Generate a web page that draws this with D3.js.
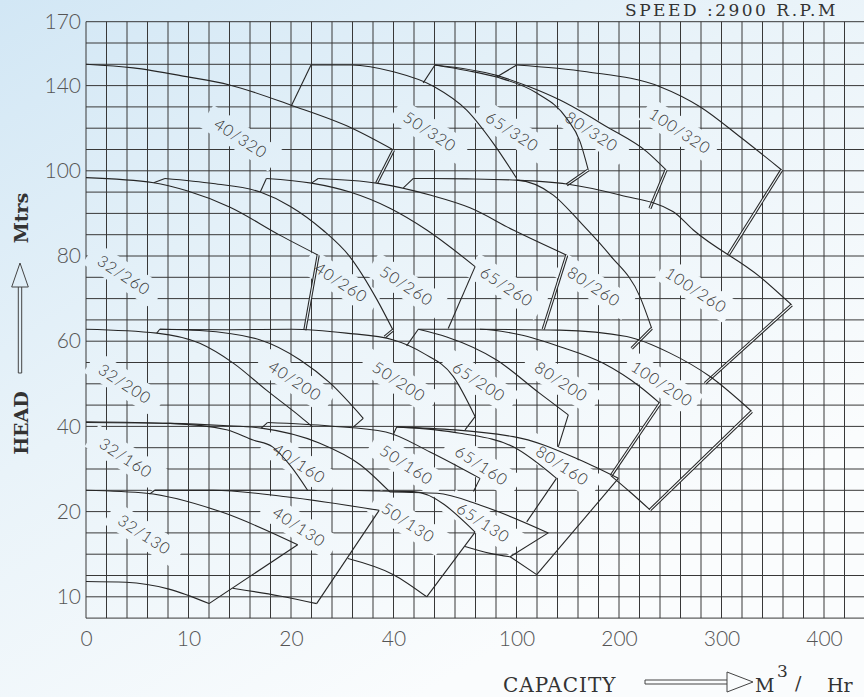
<!DOCTYPE html>
<html>
<head>
<meta charset="utf-8">
<script src="https://cdn.jsdelivr.net/npm/d3@7"></script>
<style>
html, body { margin: 0; padding: 0; overflow: hidden; }
svg { display: block; }
</style>
</head>
<body>
<svg id="chart" width="864" height="697"></svg>
<script>
// axis ticks (chart paper is piecewise, so the scales below are polylinear)
var capTicks = [0, 10, 20, 40, 100, 200, 300, 400];
var headTicks = [10, 20, 40, 60, 80, 100, 140, 170];

// pump curves, points are [capacity m3/h, head m]
// top = max impeller curve, step = short rise where a tile starts,
// edge = right hand limit line, bottom = lower limit where it shows
var curves320 = [
  {model: '40/320', top: [[0,150],[4.6,148.3],[9.8,144.2],[14,140.3],[20.1,130.7],[31.8,120.1],[40,109.8]],
   edge: [[40,109.8],[36.7,97.1]], label: [15.1,115.3]},
  {model: '50/320', step: [[20.1,130.7],[23.9,149.7]],
   top: [[23.9,149.7],[31.8,149.7],[40,146.5],[59.9,139.5],[75.7,128.5],[88.7,112.9],[100.2,98.2]], label: [57.8,118.4]},
  {model: '65/320', step: [[54.5,141.3],[60.2,149.7]],
   top: [[60.2,149.7],[75.7,147.1],[90.3,144.0],[119.7,136.5],[149,124.6],[162,113.7],[170,100.4]],
   edge: [[170,100.4],[149,96.7]], label: [98,118.4]},
  {model: '80/320', top: [[60.2,149.7],[90.3,144.8],[113.2,139.3],[142.4,133.2],[188,120.7],[227,109.0],[245.9,100.4]],
   edge: [[245.9,100.4],[230.2,91.2]], label: [173.4,118.4]},
  {model: '100/320', step: [[90.3,144.0],[100.2,149.7]],
   top: [[100.2,149.7],[168.5,146.5],[240,139.5],[279,130.1],[318,116.0],[358.7,100.4]],
   edge: [[358.7,100.4],[306.6,80.2]], label: [259.5,118.7]}
];

var curves260 = [
  {model: '32/260', top: [[0,98.4],[6.6,97.2],[9.85,95.3],[14,91.5],[18.9,84.9],[25.3,80.2]],
   edge: [[25.3,80.2],[22.7,62.6]], label: [3.7,75.5]},
  {model: '40/260', step: [[6.6,97.2],[7.7,98.2]],
   top: [[7.7,98.2],[12.4,97.0],[17.0,95.0],[19.9,91.7],[26.2,86.1],[31.5,79.8],[36.8,69.7],[39.9,62.6]],
   edge: [[39.9,62.6],[38.3,61.0]], label: [29.8,73.8]},
  {model: '50/260', step: [[17.0,95.0],[17.6,98.2]],
   top: [[17.6,98.2],[24.0,97.1],[31.5,95.0],[39.3,91.2],[56.2,86.1],[79.8,77.5]],
   edge: [[79.8,77.5],[66.7,63.0]], label: [46.4,73.0]},
  {model: '65/260', step: [[24.0,97.1],[25.3,98.2]],
   top: [[25.3,98.2],[36.7,97.1],[57.8,94.3],[77.3,91.3],[98.4,86.1],[149,80.2]],
   edge: [[149,80.2],[126.1,62.8]], label: [95.2,72.8]},
  {model: '80/260', step: [[44.8,96.0],[49.7,98.2]],
   top: [[49.7,98.2],[75.7,98.1],[100.2,97.8],[135.9,94.3],[162,88.0],[191.2,80.2],[220.5,70.4],[231.9,63.0]],
   edge: [[231.9,63.0],[212.4,58.3]], label: [175.6,72.8]},
  {model: '100/260', top: [[100.2,97.8],[149,96.9],[201,94.3],[253,90.4],[272.5,86.1],[337.6,75.1],[368.5,68.5]],
   edge: [[368.5,68.5],[283.9,50.1]], label: [275.1,72.0]}
];

var curves200 = [
  {model: '32/200', top: [[0,62.8],[6.9,61.9],[11.1,59.5],[14.4,54.8],[17.6,48.5],[21.8,42.3],[24.2,39.9]], label: [3.8,50.0]},
  {model: '40/200', step: [[6.9,61.9],[7.2,62.8]],
   top: [[7.2,62.8],[11.1,62.5],[17.0,60.3],[21.8,55.6],[27.6,50.2],[34.1,41.9]],
   edge: [[34.1,41.9],[32.2,39.9]], label: [20.8,50.7]},
  {model: '50/200', top: [[7.2,62.8],[14.0,62.7],[20.1,62.8],[30.8,61.9],[40.0,60.3],[54.5,57.2],[69.2,51.7],[79.8,42.3]],
   edge: [[79.8,42.3],[74.9,39.2]], label: [42.7,50.5]},
  {model: '65/200', step: [[46.4,58.9],[52.1,62.8]],
   top: [[52.1,62.8],[66,61.0],[90.3,55.6],[122.4,47.8],[150.5,42.7]],
   edge: [[150.5,42.7],[140.8,35.2]], label: [81.7,50.5]},
  {model: '80/200', top: [[52.1,62.8],[82.2,62.8],[103.4,61.5],[142.4,58.7],[184.7,54.8],[220.5,49.3],[240,45.4]],
   edge: [[240,45.4],[192.2,28.4]], bottom: [[192.2,28.4],[210.8,24.6],[230.3,20.4]], label: [143.7,50.5]},
  {model: '100/200', top: [[82.2,62.8],[142.4,62.6],[207.5,61.1],[249.8,57.2],[288.8,51.7],[329.5,43.5]],
   edge: [[329.5,43.5],[230.3,20.4]], label: [242.0,50.0]}
];

var curves160 = [
  {model: '32/160', top: [[0,41.1],[8.2,40.7],[13.7,39.2],[16.3,36.8],[18.2,35.2],[19.9,30.9],[23.3,24.9]], label: [3.9,32.6]},
  {model: '40/160', step: [[17.1,39.6],[17.7,40.9]],
   top: [[0,40.9],[8.2,40.7],[13.4,40.2],[17.1,39.6],[25.5,36.1],[33.5,31.0],[39.3,24.6]], label: [21.6,31.3]},
  {model: '50/160', top: [[17.7,40.9],[27.6,40.1],[38.5,38.7],[57.8,34.0],[82.2,27.8]],
   edge: [[82.2,27.8],[79.0,24.7]], label: [46.4,31.0]},
  {model: '65/160', step: [[40.0,38.2],[41.6,39.9]],
   top: [[41.6,39.9],[72.4,38.4],[98.4,35.2],[139.0,27.8]],
   edge: [[139.0,27.8],[110.0,18.8]], label: [83.0,30.8]},
  {model: '80/160', top: [[41.6,39.9],[98.4,37.6],[162,32.1],[199.4,27.8]],
   edge: [[199.4,27.8],[119.7,12.6]], bottom: [[96.9,14.7],[119.7,12.6]], label: [144.8,30.8]}
];

var curves130 = [
  {model: '32/130', top: [[0,25.0],[5.9,24.3],[13.1,20.0],[21.3,16.1]],
   edge: [[21.3,16.1],[12.0,9.2]], bottom: [[0,11.8],[3.9,11.7],[8.1,10.9],[12.0,9.2]], label: [5.7,17.3]},
  {model: '40/130', step: [[6.2,24.1],[6.7,25.0]],
   top: [[6.7,25.0],[12.4,25.0],[19.5,23.5],[37.2,20.3]],
   edge: [[37.2,20.3],[25.0,9.2]], bottom: [[14.3,11.0],[18.9,10.1],[25.0,9.2]], label: [21.6,18.2]},
  {model: '50/130', top: [[6.7,25.0],[21.8,25.0],[49.7,24.7],[79.8,17.6]],
   edge: [[79.8,17.6],[56.2,10.0]], bottom: [[31.1,14.5],[40,12.6],[56.2,10.0]], label: [47.2,18.7]},
  {model: '65/130', top: [[39.3,24.6],[61.3,24.3],[82.4,21.5],[131.0,17.5]],
   edge: [[131.0,17.5],[96.9,14.7]], bottom: [[74.9,15.9],[87.1,15.1],[96.9,14.7]], label: [83.8,18.7]}
];

// right hand limits drawn as a double rule on the sheet
var doubleEdges = ['40/320', '65/320', '80/320', '100/320', '32/260', '40/260', '65/260', '80/260', '100/260', '80/200', '100/200'];

var allCurves = curves320.concat(curves260, curves200, curves160, curves130);

var svg = d3.select('#chart');
var W = 864, H = 697;

var defs = svg.append('defs');
var bg = defs.append('linearGradient').attr('id', 'bg')
  .attr('gradientUnits', 'userSpaceOnUse')
  .attr('x1', 0).attr('y1', 0).attr('x2', 420).attr('y2', H);
bg.append('stop').attr('offset', 0).attr('stop-color', '#d2e7f5');
bg.append('stop').attr('offset', 0.5).attr('stop-color', '#e9f3f9');
bg.append('stop').attr('offset', 1).attr('stop-color', '#fafcfd');

svg.append('rect').attr('width', W).attr('height', H).attr('fill', 'url(#bg)');

var x = d3.scaleLinear().domain([0, 20, 40, 100, 400]).range([86, 291, 393.5, 516.5, 824]);
var y = d3.scaleLinear().domain([7.5, 20, 100, 170]).range([618.1, 511.6, 170.8, 21.7]);

var plotL = x(0), plotR = W, plotT = y(170), plotB = y(7.5);
var colW = (x(400) - x(0)) / 36, rowH = (y(10) - y(170)) / 27;

// grid, one line per column / row of the chart paper
var gridQ = d3.range(0, 39).map(function(c) { return x.invert(plotL + c * colW); });
var gridH = d3.range(0, 29).map(function(r) { return y.invert(plotT + r * rowH); });

var grid = svg.append('g').attr('stroke', '#383838').attr('stroke-width', 1);
grid.selectAll('line.v').data(gridQ).enter().append('line').attr('class', 'v')
  .attr('x1', function(d) { return x(d); }).attr('x2', function(d) { return x(d); })
  .attr('y1', plotT).attr('y2', plotB);
grid.selectAll('line.h').data(gridH).enter().append('line').attr('class', 'h')
  .attr('x1', plotL).attr('x2', plotR)
  .attr('y1', function(d) { return y(d); }).attr('y2', function(d) { return y(d); });

// white-out behind model labels (polygon in page coords so the gradient lines up)
var angle = 33;
function rotBox(cx, cy, w, h, deg) {
  var a = deg * Math.PI / 180, c = Math.cos(a), s = Math.sin(a);
  return [[-w/2,-h/2],[w/2,-h/2],[w/2,h/2],[-w/2,h/2]].map(function(p) {
    return [cx + p[0]*c - p[1]*s, cy + p[0]*s + p[1]*c];
  });
}
svg.append('g').selectAll('path').data(allCurves).enter().append('path')
  .attr('d', function(d) {
    return d3.line()(rotBox(x(d.label[0]), y(d.label[1]), 82, 26, angle)) + 'Z';
  })
  .attr('fill', 'url(#bg)');

var smooth = d3.line().x(function(d) { return x(d[0]); }).y(function(d) { return y(d[1]); })
  .curve(d3.curveMonotoneX);
var straight = d3.line().x(function(d) { return x(d[0]); }).y(function(d) { return y(d[1]); });

var lines = svg.append('g').attr('fill', 'none').attr('stroke', '#262626').attr('stroke-width', 1.1);

allCurves.forEach(function(c) {
  lines.append('path').attr('d', smooth(c.top));
  if (c.bottom) lines.append('path').attr('d', smooth(c.bottom));
  if (c.step) lines.append('path').attr('d', straight(c.step));
  if (c.edge) {
    if (doubleEdges.indexOf(c.model) >= 0) {
      lines.append('path').attr('d', straight(c.edge)).attr('stroke-width', 3.2);
      lines.append('path').attr('d', straight(c.edge)).attr('stroke', 'url(#bg)').attr('stroke-width', 1.1);
    } else {
      lines.append('path').attr('d', straight(c.edge));
    }
  }
});

// model labels
svg.append('g').selectAll('text').data(allCurves).enter().append('text')
  .attr('transform', function(d) {
    return 'translate(' + x(d.label[0]) + ',' + y(d.label[1]) + ') rotate(' + angle + ')';
  })
  .attr('text-anchor', 'middle').attr('dy', '0.36em')
  .attr('font-family', 'Lato, "Noto Sans", sans-serif').attr('font-weight', 300)
  .attr('font-size', 16).attr('letter-spacing', 1).attr('fill', '#333')
  .text(function(d) { return d.model; });

// axes
var yAxis = svg.append('g').attr('transform', 'translate(' + plotL + ',0)')
  .call(d3.axisLeft(y).tickValues(headTicks).tickSize(0).tickPadding(5));
yAxis.select('.domain').remove();
yAxis.selectAll('text').attr('font-family', 'Lato, sans-serif').attr('font-weight', 300)
  .attr('font-size', 21).attr('fill', '#555');

var xAxis = svg.append('g').attr('transform', 'translate(0,' + plotB + ')')
  .call(d3.axisBottom(x).tickValues(capTicks).tickSize(0).tickPadding(13));
xAxis.select('.domain').remove();
xAxis.selectAll('text').attr('font-family', 'Lato, sans-serif').attr('font-weight', 300)
  .attr('font-size', 21).attr('fill', '#555');

// axis titles
var serif = '"DejaVu Serif", "Liberation Serif", serif';
svg.append('text').attr('transform', 'translate(28,423) rotate(-90)')
  .attr('text-anchor', 'middle').attr('font-family', serif).attr('font-size', 19)
  .attr('font-weight', 'bold').attr('fill', '#333').text('HEAD');
svg.append('text').attr('transform', 'translate(28,218) rotate(-90)')
  .attr('text-anchor', 'middle').attr('font-family', serif).attr('font-size', 19)
  .attr('font-weight', 'bold').attr('fill', '#333').text('Mtrs');

var arrows = svg.append('g').attr('fill', 'none').attr('stroke', '#444').attr('stroke-width', 1);
// up arrow beside HEAD
arrows.append('path').attr('d', 'M18.3,373 L18.3,287 M21.7,373 L21.7,287 M18.3,373 L21.7,373');
arrows.append('path').attr('d', 'M11.7,287 L28.3,287 L20,263 Z');
// right arrow after CAPACITY
arrows.append('path').attr('d', 'M645,680 L727,680 M645,684 L727,684 M645,680 L645,684');
arrows.append('path').attr('d', 'M727,672 L727,692 L753,682 Z');

svg.append('text').attr('x', 503).attr('y', 692).attr('font-family', serif).attr('font-size', 20)
  .attr('letter-spacing', 1).attr('fill', '#333').text('CAPACITY');
svg.append('text').attr('x', 755).attr('y', 692).attr('font-family', serif).attr('font-size', 19)
  .attr('fill', '#333').text('M');
svg.append('text').attr('x', 777).attr('y', 677).attr('font-family', serif).attr('font-size', 17)
  .attr('fill', '#333').text('3');
svg.append('text').attr('x', 795).attr('y', 690).attr('font-family', serif).attr('font-size', 19)
  .attr('fill', '#333').text('/');
svg.append('text').attr('x', 827).attr('y', 692).attr('font-family', serif).attr('font-size', 19)
  .attr('fill', '#333').text('Hr');

svg.append('text').attr('x', 625).attr('y', 16).attr('font-family', serif).attr('font-size', 17)
  .attr('letter-spacing', 2.5).attr('fill', '#333').text('SPEED :2900 R.P.M');
</script>
</body>
</html>
